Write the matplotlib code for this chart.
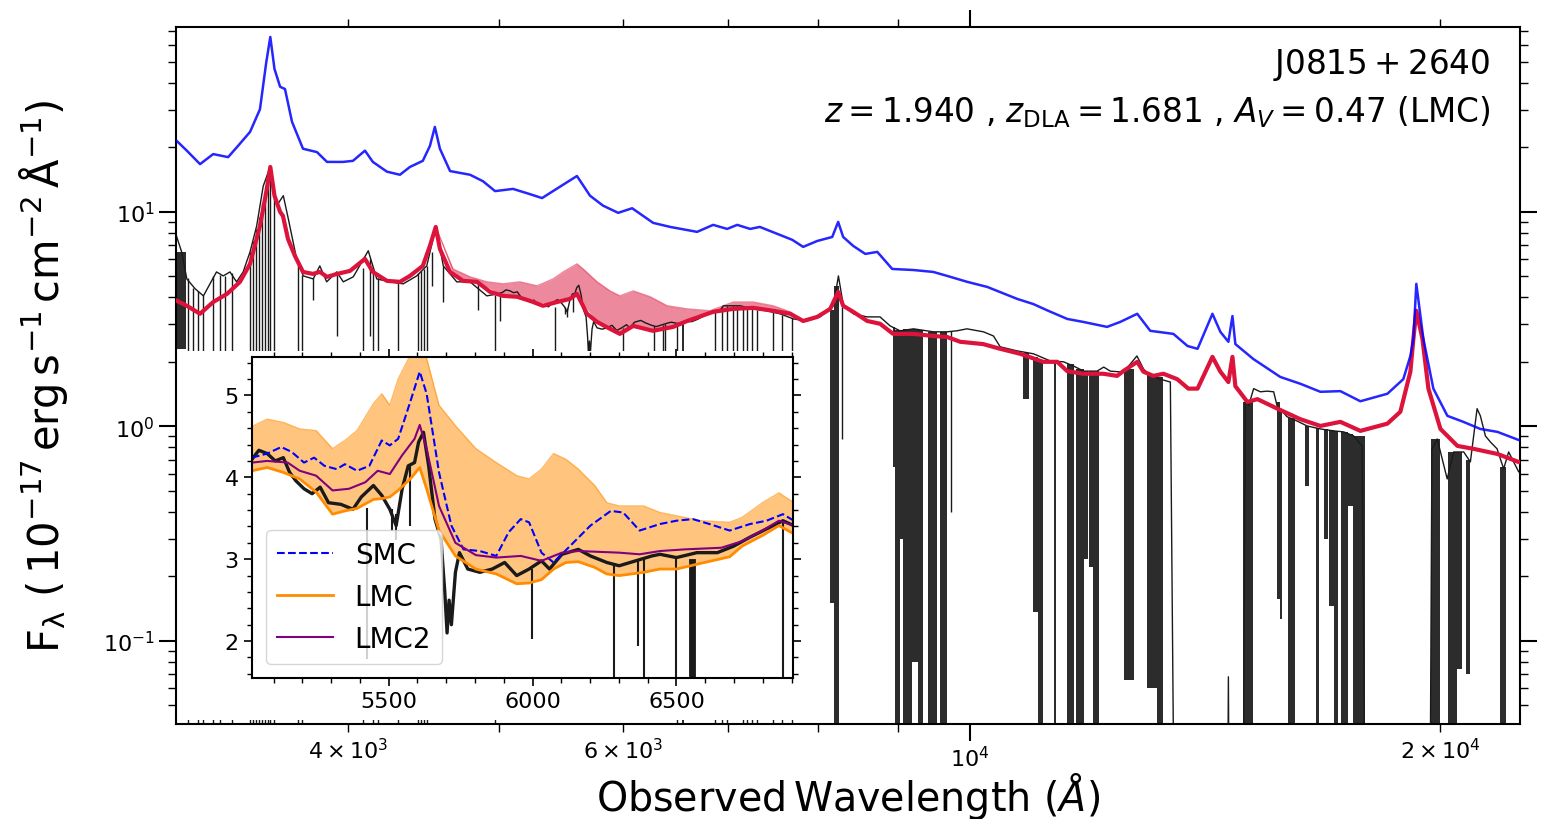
import numpy as np
import matplotlib
matplotlib.use('Agg')
import matplotlib.pyplot as plt
from matplotlib.patches import Rectangle
from matplotlib.ticker import MultipleLocator

# ---- main panel: model spectra (wavelength in A, flux in 1e-17 erg/s/cm2/A)
blue_wave = [3109, 3155, 3217, 3280, 3353, 3402, 3463, 3514, 3547, 3568, 3590, 3620, 3646, 3684,
             3744, 3822, 3879, 3971, 4030, 4102, 4150, 4237, 4319, 4383, 4467, 4514, 4547, 4581,
             4650, 4789, 4881, 4969, 5102, 5231, 5325, 5467, 5606, 5715, 5825, 5957, 6081, 6272,
             6432, 6692, 6852, 6995, 7099, 7236, 7340, 7531, 7699, 7824, 7988, 8166, 8238, 8299,
             8423, 8574, 8727, 8921, 9201, 9476, 9674, 9963, 10261, 10725, 10981, 11226, 11545,
             11820, 12243, 12484, 12800, 13048, 13500, 13785, 13990, 14300, 14468, 14640, 14728,
             14791, 15190, 15805, 16279, 16765, 17267, 17783, 18505, 18944, 19143, 19228, 19311,
             19513, 19802, 20216, 20697, 21222, 21762, 22447, 22520]
blue_flux = [21.4, 19.3, 16.7, 18.6, 18.0, 20.3, 23.6, 30.1, 50.0, 65.4, 46.4, 38.3, 37.4, 26.3,
             19.7, 19.0, 17.1, 17.1, 17.3, 19.3, 17.1, 15.4, 14.9, 16.2, 17.3, 20.3, 24.9, 19.7,
             15.5, 14.9, 13.9, 12.5, 12.8, 12.1, 11.6, 13.1, 14.7, 11.9, 10.7, 9.9, 10.4, 8.89,
             8.51, 8.07, 8.70, 8.33, 8.70, 8.33, 8.51, 7.90, 7.41, 6.87, 7.32, 7.64, 8.98, 7.64,
             6.94, 6.37, 6.51, 5.42, 5.36, 5.25, 5.03, 4.72, 4.47, 3.93, 3.72, 3.46, 3.17,
             3.07, 2.91, 3.07, 3.35, 2.79, 2.70, 2.37, 2.30, 3.35, 2.76, 2.48, 3.27,
             2.42, 2.06, 1.70, 1.58, 1.45, 1.46, 1.31, 1.42, 1.66, 2.13, 2.56, 4.62,
             2.56, 1.50, 1.12, 1.05, 0.973, 0.943, 0.865, 0.86]

red_wave = [3109, 3155, 3217, 3280, 3348, 3412, 3463, 3514, 3547, 3568, 3590, 3620, 3635, 3662,
            3700, 3744, 3799, 3838, 3879, 3937, 4013, 4102, 4150, 4237, 4319, 4383, 4467, 4514,
            4553, 4581, 4650, 4740, 4839, 4932, 5028, 5133, 5231, 5333, 5444, 5549, 5606, 5690,
            5775, 5886, 5972, 6091, 6272, 6460, 6594, 6852, 7057, 7268, 7485, 7676, 7824, 7988,
            8142, 8238, 8299, 8423, 8599, 8762, 8933, 9201, 9476, 9674, 9861, 10200, 10459,
            10772, 11144, 11377, 11545, 11820, 12173, 12427, 12539, 12800, 12916, 13108, 13303,
            13578, 13801, 13990, 14300, 14468, 14640, 14728, 14791, 15056, 15280, 15735, 16279,
            16765, 17267, 17783, 18505, 18862, 19143, 19228, 19311, 19486, 19658, 20010, 20517,
            21008, 21762, 22447, 22520]
red_flux = [3.85, 3.65, 3.35, 3.80, 4.15, 4.72, 5.72, 8.60, 12.4, 16.2, 11.9, 10.0, 9.58, 7.48,
            6.23, 5.25, 5.14, 5.25, 4.98, 5.14, 5.31, 6.04, 5.25, 4.77, 4.72, 5.03, 5.60, 6.94,
            8.51, 6.72, 5.25, 4.77, 4.72, 4.24, 4.06, 4.02, 3.85, 3.65, 3.80, 3.93, 4.15, 3.35,
            3.07, 2.85, 2.70, 2.94, 2.79, 2.91, 3.10, 3.42, 3.53, 3.57, 3.46, 3.35, 3.10, 3.24,
            3.53, 4.24, 3.65, 3.42, 3.10, 3.01, 2.70, 2.70, 2.64, 2.61, 2.48, 2.42, 2.30,
            2.18, 2.00, 2.00, 1.81, 1.76, 1.76, 1.72, 1.81, 2.00, 1.80, 1.72, 1.76,
            1.66, 1.50, 1.50, 2.11, 1.80, 1.61, 2.11, 1.54, 1.30, 1.34, 1.21, 1.08,
            1.005, 1.05, 0.953, 1.03, 1.17, 1.80, 2.56, 3.46, 2.56, 1.50, 0.973, 0.811,
            0.786, 0.744, 0.683, 0.68]

# shaded LMC range on the main panel
shade_wave = [4553, 4670, 4789, 4910, 5028, 5154, 5286, 5413, 5494, 5606, 5657, 5775, 5886, 5972,
              6091, 6245, 6403, 6594, 6822, 7057, 7268, 7485, 7676, 7824]
shade_low = [8.51, 5.14, 4.72, 4.47, 4.06, 4.02, 3.80, 3.72, 3.85, 4.15, 3.72, 3.07, 2.85, 2.70,
             2.94, 2.82, 2.88, 3.10, 3.38, 3.53, 3.57, 3.46, 3.35, 3.10]
shade_high = [8.51, 5.42, 4.98, 4.72, 4.62, 4.72, 4.52, 4.87, 5.25, 5.72, 5.42, 4.72, 4.28, 4.06,
              4.28, 4.02, 3.65, 3.53, 3.46, 3.80, 3.80, 3.65, 3.42, 3.10]

# ---- observed spectrum (black), blue part, zoomed part, red part
obs_wave_a = [3107, 3131, 3155, 3194, 3233, 3296, 3329, 3362, 3395, 3428, 3463, 3497, 3531, 3567,
              3602, 3637, 3664, 3709, 3746, 3801, 3838, 3877, 3935, 3973, 4032, 4122, 4174, 4256,
              4340, 4427, 4493, 4554, 4604, 4696, 4789, 4909, 4990]
obs_flux_a = [7.73, 6.51, 4.87, 4.38, 4.06, 5.25, 5.03, 5.25, 4.72, 5.25, 6.51, 8.60, 13.2, 16.2,
              10.7, 11.9, 9.28, 6.04, 5.03, 4.87, 5.60, 4.72, 5.25, 4.72, 4.98, 6.59, 4.87, 4.72,
              4.62, 5.03, 5.60, 8.51, 5.60, 4.72, 4.72, 4.06, 4.15]

zoom_wave = [5025, 5049, 5078, 5106, 5134, 5156, 5177, 5206, 5234, 5262, 5291, 5334, 5376, 5405,
             5447, 5476, 5504, 5526, 5547, 5568, 5590, 5604, 5621, 5639, 5661, 5682, 5695, 5703,
             5710, 5718, 5732, 5746, 5775, 5817, 5860, 5903, 5945, 5988, 6031, 6059, 6102, 6159,
             6201, 6258, 6301, 6358, 6415, 6443, 6500, 6571, 6642, 6699, 6756, 6813, 6870, 6908]
zoom_flux = [4.22, 4.33, 4.29, 4.20, 4.24, 4.06, 3.96, 3.86, 3.80, 3.88, 3.69, 3.67, 3.61, 3.76,
             3.90, 3.78, 3.61, 3.41, 3.86, 4.14, 4.18, 4.43, 4.55, 4.14, 3.49, 3.24, 2.60, 2.10,
             2.50, 2.20, 2.84, 3.08, 2.88, 2.84, 2.88, 2.96, 2.80, 2.88, 2.98, 2.88, 3.06, 3.12,
             3.04, 2.96, 2.92, 2.98, 3.04, 3.06, 3.02, 3.08, 3.08, 3.16, 3.27, 3.37, 3.47, 3.41]

obs_wave_b = [6956, 7130, 7271, 7416, 7560, 7714, 7866, 8021, 8182, 8241, 8302, 8425, 8595, 8762,
              8894, 9026, 9205, 9480, 9670, 9813, 9959, 10205, 10356, 10459, 10720, 10986, 11259,
              11484, 11655, 11829, 12064, 12183, 12302, 12545, 12794, 12920, 13048, 13243, 13440,
              13520, 14620, 14640, 14660, 14960, 15010, 15083, 15195, 15346, 15498, 15650, 15728,
              15961, 16198, 16439, 16765, 17096, 17350, 17607, 17828, 17914, 19700, 19760, 19915,
              20210, 20404, 20708, 20912, 21120, 21222, 21380, 21538, 21752, 21963, 22125, 22289,
              22455, 22520]
obs_flux_b = [3.65, 3.65, 3.53, 3.46, 3.35, 3.17, 3.10, 3.24, 3.65, 5.03, 3.65, 3.35, 3.24, 3.24,
              2.94, 2.79, 2.85, 2.76, 2.76, 2.79, 2.85, 2.76, 2.64, 2.35, 2.25, 2.18, 2.02,
              2.00, 1.91, 1.81, 1.81, 1.89, 1.81, 1.79, 2.13, 1.85, 1.72, 1.66, 1.61,
              0.01, 0.01, 0.068, 0.01, 0.01, 1.34, 1.25, 1.50, 1.45, 1.46, 1.45, 1.25,
              1.11, 1.06, 1.005, 0.973, 0.953, 0.943, 0.903, 0.811, 0.01, 0.01, 0.786, 0.874,
              0.569, 0.760, 0.760, 0.683, 1.21, 1.12, 0.903, 0.846, 0.786, 0.634, 0.760, 0.683,
              0.614, 0.62]

# narrow absorption lines: wavelength, flux before the line, flux at line bottom
line_wave = [3160, 3183, 3207, 3231, 3280, 3313, 3338, 3370, 3463, 3479, 3494, 3510, 3526, 3542,
             3557, 3567, 3585, 3715, 3738, 3799, 3937, 4090, 4132, 4150, 4181, 4306, 4436, 4455,
             4475, 4496, 4528, 4602, 4844, 4969, 5004, 6942, 6993, 7057, 7099, 7161, 7204, 7256,
             7311, 7485, 7586, 7699, 8282, 9730]
line_top = [4.9, 4.4, 4.3, 4.1, 5.0, 5.1, 5.0, 5.2, 6.5, 7.3, 8.3, 9.5, 11.0, 12.5,
            14.0, 15.5, 12.0, 5.8, 5.1, 4.9, 5.2, 5.5, 6.0, 5.2, 4.9, 4.7, 5.2, 5.3,
            5.4, 5.6, 6.5, 5.6, 4.7, 4.1, 4.1, 3.6, 3.65, 3.65, 3.65, 3.6, 3.6, 3.55,
            3.5, 3.45, 3.3, 3.2, 3.6, 2.78]
line_bottom = [0.02, 1.5, 0.02, 0.02, 0.02, 0.02, 1.2, 0.02, 0.02, 0.02, 0.02, 0.02, 0.02, 0.02,
               0.02, 0.02, 0.02, 0.02, 0.02, 3.9, 2.65, 0.02, 2.65, 0.02, 0.02, 0.02, 0.02, 0.02,
               0.02, 0.02, 4.5, 3.8, 3.5, 0.02, 3.1, 0.02, 0.02, 2.2, 2.2, 0.02, 0.02, 0.02,
               0.02, 0.02, 0.02, 0.02, 0.87, 0.40]

# lines inside the zoomed range
zline_wave = [5426, 5510, 5526, 5575, 5999, 6283, 6365, 6386, 6500, 6870]
zline_top = [3.62, 3.61, 3.55, 4.14, 2.88, 2.95, 2.98, 3.00, 3.02, 3.45]
zline_bottom = [1.78, 3.35, 3.24, 3.41, 2.02, 0.5, 1.94, 0.5, 0.02, 0.02]

# blended telluric bands: start, end, top, bottom
band_start = [3105, 6543, 8138, 8182, 8930, 8960, 9030, 9070, 9190, 9270, 9400, 9476, 9574,
              10824, 10970, 11060, 11330, 11545, 11690, 11830, 11915, 11985, 12545, 12990, 13170,
              14950, 15215, 15730, 15800, 15990, 16400, 16650, 16850, 16980, 17100, 17270, 17450,
              17600, 19720, 20240, 20517, 20770, 21860]
band_end = [3150, 6564, 8182, 8250, 8960, 9030, 9070, 9190, 9270, 9330, 9470, 9535, 9674,
            10905, 11060, 11140, 11360, 11655, 11830, 11900, 11985, 12090, 12730, 13170, 13290,
            15170, 15230, 15800, 15850, 16160, 16480, 16730, 16950, 17100, 17200, 17450, 17600,
            17914, 20010, 20517, 20670, 20912, 22030]
band_top = [6.5, 3.0, 3.5, 4.5, 2.9, 2.8, 2.8, 2.85, 2.85, 2.8, 2.76, 2.76, 2.76,
            2.2, 2.1, 2.05, 2.0, 1.95, 1.85, 1.81, 1.81, 1.81, 1.85, 1.75, 1.7,
            1.3, 1.45, 1.3, 1.2, 1.1, 1.0, 0.98, 0.97, 0.96, 0.95, 0.94, 0.92,
            0.9, 0.87, 0.76, 0.76, 0.70, 0.65]
band_bottom = [2.3, 0.02, 0.15, 0.02, 0.65, 0.02, 0.3, 0.02, 0.08, 0.02, 0.02, 0.02, 0.02,
               1.34, 0.136, 0.02, 0.02, 0.02, 0.02, 0.24, 0.22, 0.02, 0.066, 0.06, 0.02,
               0.02, 0.02, 0.157, 0.126, 0.02, 0.53, 0.02, 0.30, 0.145, 0.02, 0.02, 0.425,
               0.02, 0.02, 0.02, 0.074, 0.07, 0.02]

# ---- inset: extinction curve fits
lmc_wave = [5025, 5078, 5134, 5191, 5248, 5305, 5348, 5390, 5447, 5476, 5504, 5533, 5575, 5608,
            5632, 5675, 5732, 5803, 5874, 5945, 5988, 6031, 6073, 6116, 6159, 6216, 6258, 6301,
            6386, 6443, 6500, 6585, 6685, 6728, 6799, 6856, 6908]
lmc_high = [4.62, 4.71, 4.67, 4.59, 4.57, 4.35, 4.45, 4.57, 4.90, 5.02, 4.88, 5.20, 5.49, 5.85,
            5.45, 4.88, 4.63, 4.35, 4.18, 4.02, 3.98, 4.10, 4.29, 4.22, 4.10, 3.90, 3.69, 3.65,
            3.65, 3.57, 3.53, 3.47, 3.45, 3.51, 3.69, 3.81, 3.69]
lmc_low = [4.08, 4.12, 4.06, 3.98, 3.82, 3.55, 3.59, 3.62, 3.73, 3.74, 3.76, 3.84, 3.98, 4.12,
           3.86, 3.35, 3.04, 2.88, 2.82, 2.70, 2.71, 2.75, 2.88, 2.96, 2.97, 2.90, 2.82, 2.80,
           2.84, 2.88, 2.88, 2.95, 3.03, 3.16, 3.29, 3.41, 3.31]

smc_wave = [5025, 5078, 5127, 5163, 5206, 5241, 5277, 5319, 5348, 5390, 5433, 5476, 5504, 5533,
            5575, 5608, 5632, 5675, 5718, 5760, 5817, 5874, 5917, 5959, 5988, 6031, 6073, 6130,
            6201, 6272, 6315, 6372, 6443, 6500, 6557, 6614, 6685, 6756, 6813, 6870, 6908]
smc_flux = [4.24, 4.29, 4.37, 4.31, 4.18, 4.24, 4.14, 4.10, 4.16, 4.08, 4.14, 4.45, 4.39, 4.47,
            4.92, 5.29, 5.02, 4.06, 3.41, 3.12, 3.10, 3.04, 3.33, 3.49, 3.45, 3.08, 2.96, 3.16,
            3.41, 3.59, 3.57, 3.35, 3.43, 3.47, 3.49, 3.43, 3.35, 3.43, 3.47, 3.55, 3.47]

lmc2_wave = [5025, 5078, 5149, 5191, 5248, 5305, 5362, 5419, 5462, 5504, 5547, 5590, 5608, 5632,
             5675, 5732, 5803, 5874, 5959, 6031, 6102, 6159, 6301, 6372, 6443, 6528, 6656, 6728,
             6799, 6856, 6908]
lmc2_flux = [4.18, 4.20, 4.18, 4.08, 4.02, 3.84, 3.86, 3.94, 4.08, 4.04, 4.27, 4.47, 4.64, 4.35,
             3.65, 3.20, 3.05, 3.02, 3.04, 2.98, 3.08, 3.10, 3.08, 3.06, 3.10, 3.12, 3.14, 3.22,
             3.35, 3.47, 3.41]

obs_wave = obs_wave_a + zoom_wave + obs_wave_b
obs_flux = obs_flux_a + zoom_flux + obs_flux_b
ink = '0.1'

fig = plt.figure(figsize=(15.41, 8.2), dpi=100)
ax = fig.add_axes([0.1142, 0.1159, 0.8722, 0.8503])
ax.set_zorder(0)

ax.fill_between(shade_wave, shade_low, shade_high, color='crimson', alpha=0.5, lw=0, zorder=1)
ax.plot(shade_wave, shade_high, color='crimson', lw=1, alpha=0.5, zorder=1)
ax.plot(obs_wave, obs_flux, color=ink, lw=1.0, zorder=2)
ax.vlines(line_wave, line_bottom, line_top, color=ink, lw=1.0, zorder=2)
ax.vlines(zline_wave, zline_bottom, zline_top, color=ink, lw=1.0, zorder=2)
for s, e, t, b in zip(band_start, band_end, band_top, band_bottom):
    ax.fill_between([s, e], [b, b], [t, t], color=ink, alpha=0.92, lw=0, zorder=2)
ax.plot(red_wave, red_flux, color='crimson', lw=3, zorder=3)
ax.plot(blue_wave, blue_flux, color='blue', lw=1.8, alpha=0.85, zorder=3)

ax.set_xscale('log')
ax.set_yscale('log')
ax.set_xlim(3105, 22500)
ax.set_ylim(0.041, 73)
ax.tick_params(which='both', direction='out', top=True, right=True, labelsize=16)
ax.tick_params(which='major', length=12, width=1.5)
ax.tick_params(which='minor', length=6, width=1)
for sp in ax.spines.values():
    sp.set_linewidth(1.5)

ax.set_xlabel(r'$\mathrm{Observed\,Wavelength}\ (\AA)$', fontsize=28.5, va='top')
ax.xaxis.set_label_coords(0.5, -0.066)
ax.set_ylabel(r'$\mathrm{F_{\lambda}\ (\,10^{-17}\,erg\,s^{-1}\,cm^{-2}\,\AA^{-1})}$', fontsize=30)
ax.yaxis.set_label_coords(-0.079, 0.5)

ax.text(0.978, 0.934, r'$\rm J0815+2640$', transform=ax.transAxes,
        ha='right', va='baseline', fontsize=23.5)
ax.text(0.978, 0.864, r'$z = 1.940$ , $z_{\rm DLA} = 1.681$ , $A_V = 0.47$ (LMC)',
        transform=ax.transAxes, ha='right', va='baseline', fontsize=23.5)

# white backing behind the inset and its labels
fig.add_artist(Rectangle((0.1188, 0.1207), 0.4062, 0.45, transform=fig.transFigure,
                         facecolor='white', edgecolor='none', zorder=1))

axin = fig.add_axes([0.1635, 0.1720, 0.3511, 0.3915])
axin.set_zorder(2)
axin.fill_between(lmc_wave, lmc_low, lmc_high, color='darkorange', alpha=0.5, lw=0)
axin.plot(lmc_wave, lmc_high, color='darkorange', lw=1, alpha=0.6)
axin.plot(zoom_wave, zoom_flux, color=ink, lw=2.4)
axin.vlines(zline_wave, zline_bottom, zline_top, color=ink, lw=1.5)
axin.fill_between([6543, 6564], [0.02, 0.02], [3.0, 3.0], color=ink, lw=0.6)
h_lmc, = axin.plot(lmc_wave, lmc_low, color='darkorange', lw=2, label='LMC')
h_smc, = axin.plot(smc_wave, smc_flux, color='blue', ls='--', lw=1.5, label='SMC')
h_lmc2, = axin.plot(lmc2_wave, lmc2_flux, color='purple', lw=1.5, label='LMC2')
axin.legend(handles=[h_smc, h_lmc, h_lmc2], loc='lower left', fontsize=20)

axin.set_xlim(5025, 6905)
axin.set_ylim(1.55, 5.47)
axin.xaxis.set_major_locator(MultipleLocator(500))
axin.xaxis.set_minor_locator(MultipleLocator(100))
axin.yaxis.set_major_locator(MultipleLocator(1))
axin.yaxis.set_minor_locator(MultipleLocator(0.2))
axin.tick_params(which='both', direction='out', top=True, right=True, labelsize=16)
axin.tick_params(which='major', length=6, width=1.2)
axin.tick_params(which='minor', length=3.5, width=1)
for sp in axin.spines.values():
    sp.set_linewidth(1.5)

fig.savefig('out.png', dpi=100)
